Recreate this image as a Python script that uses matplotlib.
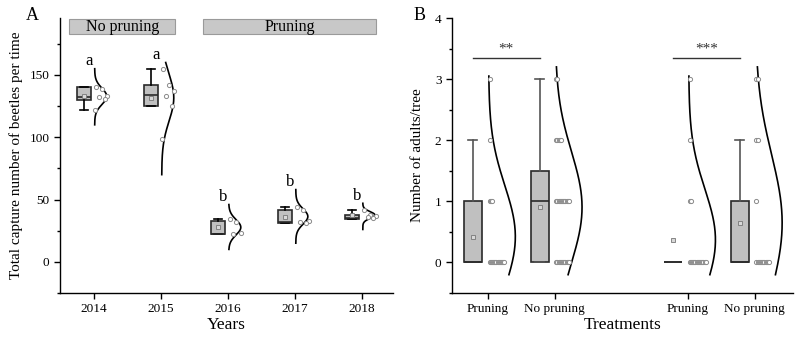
import numpy as np
import matplotlib
matplotlib.use("Agg")
from matplotlib import pyplot as plt
from matplotlib.patches import Rectangle
from matplotlib.ticker import MultipleLocator

plt.rcParams['font.family'] = ['Liberation Serif', 'DejaVu Serif']

# ---- panel A: beetle captures per year ----
years = ['2014', '2015', '2016', '2017', '2018']
pts_2014 = [140, 139, 133, 132, 131, 122]
pts_2015 = [155, 142, 137, 133, 125, 99]
pts_2016 = [34, 32, 23, 22]
pts_2017 = [44, 42, 33, 32, 31]
pts_2018 = [42, 38, 37, 36, 35]
a_q1 = [130, 125, 22, 31.5, 34.5]
a_med = [132, 134, 22.5, 32, 35.5]
a_q3 = [140, 142, 33, 41.5, 37.5]
a_lo = [122, 125, 22, 31, 34.5]
a_hi = [140, 155, 34, 44, 42]
a_letters = ['a', 'a', 'b', 'b', 'b']
a_curve_lo = [110, 70, 10, 15, 26]
a_curve_hi = [155, 160, 46, 58, 47]
groups_a = [('No pruning', 0, 1), ('Pruning', 2, 4)]

# ---- panel B: adults per tree ----
b_labels = ['Pruning', 'No pruning', 'Pruning', 'No pruning']
b_values = [0, 1, 2, 3]
# number of trees with 0, 1, 2, 3 adults
b_counts = [[14, 3, 1, 1], [12, 12, 5, 2], [15, 2, 1, 1], [12, 1, 2, 2]]
b_q1 = [0, 0, 0, 0]
b_med = [0, 1, 0, 0]
b_q3 = [1, 1.5, 0, 1]
b_lo = [0, 0, 0, 0]
b_hi = [2, 3, 0, 2]
b_curve_lo = [-0.2, -0.2, -0.2, -0.2]
b_curve_hi = [3.05, 3.2, 3.05, 3.2]
b_signif = [('**', 0, 1), ('***', 2, 3)]

BOX_FILL = '#c0c0c0'
PT_EDGE = '#8a8a8a'
JIT = [0.03, 0.12, 0.2, 0.08, 0.16, 0.01]


def draw_boxes(ax, data, pos, q1, med, q3, lo, hi, offset, width, whisk_col):
    stats = []
    for i, d in enumerate(data):
        stats.append(dict(q1=q1[i], med=med[i], q3=q3[i], whislo=lo[i],
                          whishi=hi[i], mean=np.mean(d), fliers=[]))
    ax.bxp(stats, positions=np.array(pos) + offset, widths=width,
           capwidths=width * 0.5, patch_artist=True, showmeans=True,
           showfliers=False, manage_ticks=False,
           boxprops=dict(facecolor=BOX_FILL, edgecolor='#2a2a2a', linewidth=1.2),
           medianprops=dict(color='#2a2a2a', linewidth=1.2),
           whiskerprops=dict(color=whisk_col, linewidth=1.2),
           capprops=dict(color=whisk_col, linewidth=1.2),
           meanprops=dict(marker='s', markersize=2.5, markerfacecolor='#d8d8d8',
                          markeredgecolor='#777777', markeredgewidth=0.6))


def draw_curve(ax, d, x0, lo, hi, w):
    # normal distribution curve from the group's mean and sd
    m, s = np.mean(d), np.std(d, ddof=1)
    y = np.linspace(lo, hi, 200)
    dens = np.exp(-0.5 * ((y - m) / s) ** 2)
    ax.plot(x0 + 0.01 + w * dens / dens.max(), y, color='black', lw=1.2)


def style_axes(ax):
    for side in ['top', 'right']:
        ax.spines[side].set_visible(False)
    for side in ['left', 'bottom']:
        ax.spines[side].set_linewidth(1.0)
    ax.tick_params(axis='both', which='major', direction='out', length=4.5,
                   width=1.0, labelsize=9.5, pad=3)
    ax.tick_params(axis='y', which='minor', direction='out', length=2.5, width=1.0)


fig = plt.figure(figsize=(7.96, 3.38), dpi=100)
axA = fig.add_axes([0.0754, 0.1331, 0.4183, 0.8136])
axB = fig.add_axes([0.5678, 0.1331, 0.4282, 0.8136])

# ---- panel A ----
data_a = [pts_2014, pts_2015, pts_2016, pts_2017, pts_2018]
xa = np.arange(1, len(years) + 1)
draw_boxes(axA, data_a, xa, a_q1, a_med, a_q3, a_lo, a_hi, -0.15, 0.22, 'black')
for i, d in enumerate(data_a):
    offs = [JIT[k % len(JIT)] for k in range(len(d))]
    axA.scatter(xa[i] + np.array(offs), d, s=9, facecolors='white',
                edgecolors=PT_EDGE, linewidths=0.7, zorder=3)
    draw_curve(axA, d, xa[i], a_curve_lo[i], a_curve_hi[i], 0.18)
    axA.text(xa[i] - 0.07, a_curve_hi[i] + 6, a_letters[i], ha='center',
             va='center', fontsize=12)

for name, i0, i1 in groups_a:
    axA.add_patch(Rectangle((xa[i0] - 0.37, 182.5), xa[i1] - xa[i0] + 0.58, 12.7,
                            facecolor='#c8c8c8', edgecolor='#9a9a9a', lw=0.8,
                            clip_on=False, zorder=1))
    axA.text((xa[i0] - 0.37 + xa[i1] + 0.21) / 2, 188.8, name, ha='center',
             va='center', fontsize=11.5)

axA.set_xlim(0.493, 5.46)
axA.set_ylim(-25, 195.7)
axA.set_xticks(xa)
axA.set_xticklabels(years)
axA.yaxis.set_major_locator(MultipleLocator(50))
axA.yaxis.set_minor_locator(MultipleLocator(25))
axA.set_xlabel('Years', fontsize=12.5, labelpad=1)
axA.set_ylabel('Total capture number of beetles per time', fontsize=11, labelpad=5)
style_axes(axA)

# ---- panel B ----
xb = np.array([1, 2, 4, 5])
data_b = [np.repeat(b_values, c) for c in b_counts]
draw_boxes(axB, data_b, xb, b_q1, b_med, b_q3, b_lo, b_hi, -0.225, 0.27, '#555555')
for i, d in enumerate(data_b):
    for v, c in zip(b_values, b_counts[i]):
        if c == 0:
            continue
        xs = xb[i] + 0.025 + 0.017 * np.arange(c)
        axB.scatter(xs, np.full(c, v), s=9, facecolors='white',
                    edgecolors=PT_EDGE, linewidths=0.7, zorder=3)
    draw_curve(axB, d, xb[i], b_curve_lo[i], b_curve_hi[i], 0.40)

for stars, i0, i1 in b_signif:
    axB.plot([xb[i0] - 0.225, xb[i1] - 0.225], [3.34, 3.34], color='#333333', lw=1.0)
    axB.text((xb[i0] + xb[i1]) / 2 - 0.225, 3.5, stars, ha='center', va='center',
             fontsize=11, color='#333333')

axB.set_xlim(0.46, 5.57)
axB.set_ylim(-0.5, 4)
axB.set_xticks(xb)
axB.set_xticklabels(b_labels)
axB.yaxis.set_major_locator(MultipleLocator(1))
axB.yaxis.set_minor_locator(MultipleLocator(0.5))
axB.set_xlabel('Treatments', fontsize=12.5, labelpad=1)
axB.set_ylabel('Number of adults/tree', fontsize=11, labelpad=8)
style_axes(axB)

fig.text(32 / 796, 1 - 15 / 338, 'A', fontsize=13, ha='center', va='center')
fig.text(420 / 796, 1 - 15 / 338, 'B', fontsize=13, ha='center', va='center')

fig.savefig('out.png', dpi=100)
